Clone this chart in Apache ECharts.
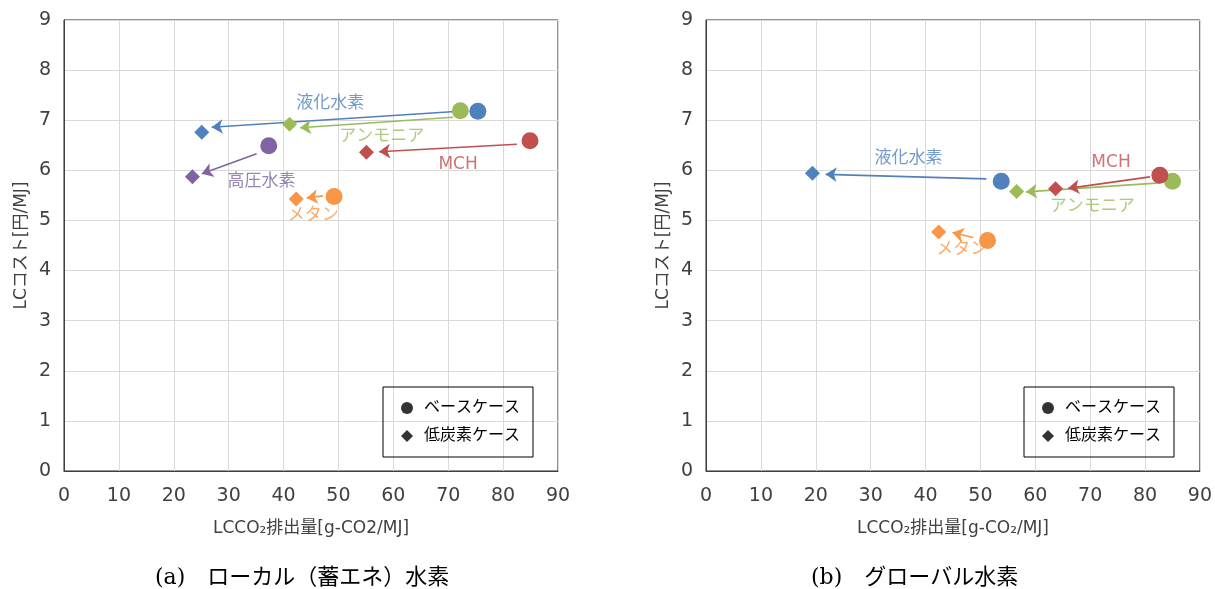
<!DOCTYPE html>
<html>
<head>
<meta charset="utf-8">
<script src="https://cdn.jsdelivr.net/npm/echarts@6/dist/echarts.min.js"></script>
<style>
  html, body { margin: 0; padding: 0; background: #fff; }
  #main { width: 1215px; height: 589px; }
</style>
</head>
<body>
<div id="main"></div>
<script>
// ---- data ----
// (a) ローカル（蓄エネ）水素
const aNames = ['液化水素', 'アンモニア', 'MCH', '高圧水素', 'メタン'];
const aBase = [[75.4, 7.18], [72.2, 7.19], [84.9, 6.59], [37.3, 6.49], [49.2, 5.48]];
const aLow = [[25.1, 6.76], [41.1, 6.92], [55.1, 6.36], [23.4, 5.87], [42.3, 5.43]];
const aArrowFrom = [[73.4, 7.19], [70.9, 7.06], [82.5, 6.52], [35.1, 6.33], [47.2, 5.49]];
const aArrowTo = [[26.9, 6.86], [43.0, 6.85], [57.4, 6.37], [25.1, 5.93], [44.2, 5.45]];
const aLabelPos = [[48.5, 7.34], [57.9, 6.67], [71.8, 6.11], [36.0, 5.77], [45.4, 5.09]];

// (b) グローバル水素
const bNames = ['液化水素', 'アンモニア', 'MCH', 'メタン'];
const bBase = [[53.8, 5.78], [85.0, 5.78], [82.7, 5.90], [51.3, 4.60]];
const bLow = [[19.4, 5.94], [56.6, 5.58], [63.7, 5.63], [42.4, 4.77]];
const bArrowFrom = [[51.1, 5.83], [82.7, 5.75], [80.9, 5.87], [48.7, 4.66]];
const bArrowTo = [[21.8, 5.92], [58.3, 5.57], [66.0, 5.64], [44.9, 4.76]];
const bLabelPos = [[36.9, 6.23], [70.4, 5.27], [73.8, 6.15], [46.6, 4.41]];

const legendNames = ['ベースケース', '低炭素ケース'];
const captions = ['(a)\u3000ローカル（蓄エネ）水素', '(b)\u3000グローバル水素'];

const colorOf = {
  '液化水素': '#4F81BD',
  'アンモニア': '#9BBB59',
  'MCH': '#C0504D',
  '高圧水素': '#8064A2',
  'メタン': '#F79646'
};

const font = '"DejaVu Sans", "Noto Sans CJK JP", sans-serif';

function makeAxes(idx) {
  const xAxis = {
    gridIndex: idx, type: 'value', min: 0, max: 90, interval: 10,
    name: 'LCCO₂排出量[g-CO' + (idx === 0 ? '2' : '₂') + '/MJ]',
    nameLocation: 'middle', nameGap: 49,
    nameTextStyle: { fontSize: 17, color: '#404040', fontFamily: font },
    axisLine: { show: true, lineStyle: { color: '#404040', width: 1 } },
    axisTick: { show: false },
    axisLabel: { fontSize: 19, color: '#404040', margin: 16, fontFamily: font },
    splitLine: { show: true, lineStyle: { color: '#d9d9d9', width: 1 } }
  };
  const yAxis = {
    gridIndex: idx, type: 'value', min: 0, max: 9, interval: 1,
    name: 'LCコスト[円/MJ]', nameLocation: 'middle', nameGap: 34,
    nameTextStyle: { fontSize: 17, color: '#404040', fontFamily: font },
    axisLine: { show: true, lineStyle: { color: '#404040', width: 1 } },
    axisTick: { show: false },
    axisLabel: { fontSize: 19, color: '#404040', margin: 13, fontFamily: font },
    splitLine: { show: true, lineStyle: { color: '#d9d9d9', width: 1 } }
  };
  return [xAxis, yAxis];
}

function makeSeries(idx, names, base, low, from, to, labelPos) {
  const out = [];
  names.forEach(function (n, i) {
    const c = colorOf[n];
    // arrow from base case toward low-carbon case
    out.push({
      type: 'lines', coordinateSystem: 'cartesian2d',
      xAxisIndex: idx, yAxisIndex: idx,
      name: n + 'arrow' + idx, silent: true, z: 2,
      symbol: ['none', 'arrow'], symbolSize: 11,
      lineStyle: { color: c, width: 1.6, opacity: 1, curveness: 0 },
      data: [{ coords: [from[i], to[i]] }]
    });
    out.push({
      type: 'scatter', xAxisIndex: idx, yAxisIndex: idx,
      name: n + idx,
      itemStyle: { color: c, opacity: 1 },
      data: [
        { value: base[i], symbol: 'circle', symbolSize: 17 },
        { value: low[i], symbol: 'diamond', symbolSize: 15 }
      ],
      z: 3
    });
  });
  out.push({
    type: 'scatter', xAxisIndex: idx, yAxisIndex: idx,
    name: 'labels' + idx, symbolSize: 0, silent: true, z: 4,
    label: {
      show: true, position: 'inside', fontSize: 17, fontFamily: font,
      formatter: function (p) { return p.name; }
    },
    data: names.map(function (n, i) {
      return { name: n, value: labelPos[i], label: { color: colorOf[n] } };
    })
  });
  return out;
}

const axA = makeAxes(0);
const axB = makeAxes(1);

const series = []
  .concat(makeSeries(0, aNames, aBase, aLow, aArrowFrom, aArrowTo, aLabelPos))
  .concat(makeSeries(1, bNames, bBase, bLow, bArrowFrom, bArrowTo, bLabelPos));

// dummy series for the legend boxes
series.push({ type: 'scatter', name: legendNames[0], xAxisIndex: 0, yAxisIndex: 0,
  symbol: 'circle', itemStyle: { color: '#000' }, data: [] });
series.push({ type: 'scatter', name: legendNames[1], xAxisIndex: 0, yAxisIndex: 0,
  symbol: 'diamond', itemStyle: { color: '#000' }, data: [] });

function makeLegend(left) {
  return {
    orient: 'vertical', left: left, top: 387,
    borderColor: '#000', borderWidth: 1, borderRadius: 0,
    padding: [13, 13, 13, 18], itemGap: 12,
    itemWidth: 12, itemHeight: 12,
    selectedMode: false,
    textStyle: { fontSize: 16, color: '#000', fontFamily: font, padding: [0, 0, 0, 6] },
    data: [
      { name: legendNames[0], icon: 'circle' },
      { name: legendNames[1], icon: 'diamond' }
    ]
  };
}

const chart = echarts.init(document.getElementById('main'));
chart.setOption({
  animation: false,
  backgroundColor: '#fff',
  title: [
    { text: captions[0], left: 150, top: 562,
      textStyle: { fontSize: 22, fontWeight: 'normal', color: '#000',
        fontFamily: '"DejaVu Serif", "Noto Sans CJK JP", serif' } },
    { text: captions[1], left: 806, top: 562,
      textStyle: { fontSize: 22, fontWeight: 'normal', color: '#000',
        fontFamily: '"DejaVu Serif", "Noto Sans CJK JP", serif' } }
  ],
  grid: [
    { left: 64, right: 657, top: 20, bottom: 118, show: true, borderColor: '#262626', borderWidth: 1 },
    { left: 706, right: 15, top: 20, bottom: 118, show: true, borderColor: '#262626', borderWidth: 1 }
  ],
  legend: [makeLegend(383), makeLegend(1024)],
  xAxis: [axA[0], axB[0]],
  yAxis: [axA[1], axB[1]],
  series: series
});
</script>
</body>
</html>
